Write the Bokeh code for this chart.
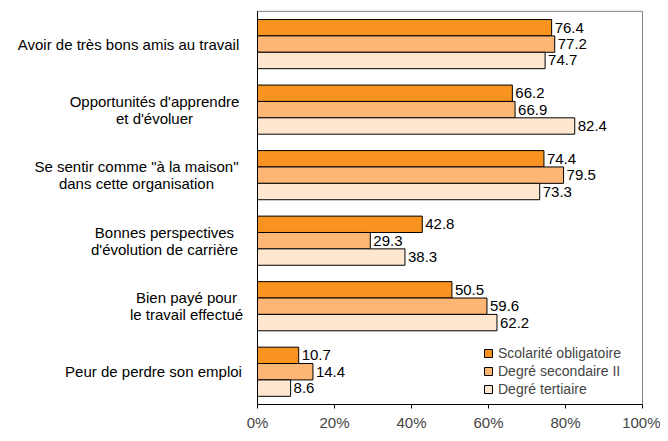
from bokeh.plotting import figure
from bokeh.models import FixedTicker, Legend, LegendItem, ColumnDataSource, LabelSet, Label
from bokeh.core.properties import value
from bokeh.embed import file_html
from bokeh.resources import INLINE

categories = [
    "Avoir de très bons amis au travail",
    "Opportunités d'apprendre\net d'évoluer",
    "Se sentir comme \"à la maison\"\ndans cette organisation",
    "Bonnes perspectives\nd'évolution de carrière",
    "Bien payé pour\nle travail effectué",
    "Peur de perdre son emploi",
]
series_names = ["Scolarité obligatoire", "Degré secondaire II", "Degré tertiaire"]
scolarite = [76.4, 66.2, 74.4, 42.8, 50.5, 10.7]
secondaire = [77.2, 66.9, 79.5, 29.3, 59.6, 14.4]
tertiaire = [74.7, 82.4, 73.3, 38.3, 62.2, 8.6]
x_ticks = [0, 20, 40, 60, 80, 100]

colors = ["#F7931E", "#FDB673", "#FFE6CF"]
FONT = "Liberation Sans"
FS = "15px"

n = len(categories)
centers = [n - 0.5 - i for i in range(n)]
offsets = [0.25, 0.0, -0.25]

# layout in pixels
W, H = 660, 433
BOTTOM = 23
FRAME_H = H - BOTTOM
AX_LEFT, AX_RIGHT, AX_TOP = 257, 642, 11
xs = (AX_RIGHT - AX_LEFT) / 100.0
x_lo = -AX_LEFT / xs
x_hi = 100 + (W - AX_RIGHT) / xs
ys = (FRAME_H - AX_TOP) / n
y_hi = n + AX_TOP / ys

p = figure(width=W, height=H, x_range=(x_lo, x_hi), y_range=(0, y_hi),
           output_backend="svg", toolbar_location=None, y_axis_location=None,
           min_border_left=0, min_border_right=0, min_border_top=0, min_border_bottom=BOTTOM)
p.outline_line_color = None
p.xgrid.visible = False
p.ygrid.visible = False
p.background_fill_color = "white"
p.border_fill_color = "white"

# plot-area box: grey top/right, black left
p.segment(x0=[0, 100], y0=[n, 0], x1=[100, 100], y1=[n, n], line_color="#808080", line_width=1)

items = []
for vals, off, col, name in zip([scolarite, secondaire, tertiaire], offsets, colors, series_names):
    src = ColumnDataSource(dict(
        y=[c + off for c in centers],
        right=vals,
        lab=[f"{v:.1f}" for v in vals],
    ))
    r = p.hbar(y="y", right="right", left=0, height=0.25, source=src,
               fill_color=col, line_color="black", line_width=1)
    items.append(LegendItem(label=name, renderers=[r]))
    p.add_layout(LabelSet(x="right", y="y", text="lab", source=src, x_offset=3,
                          text_baseline="middle", text_font=value(FONT), text_font_size=FS,
                          text_color="black"))

p.segment(x0=[0], y0=[0], x1=[0], y1=[n], line_color="black", line_width=1)

legend = Legend(items=items, location=(AX_LEFT + 226, 6), orientation="vertical",
                glyph_width=10, glyph_height=10, label_standoff=5, spacing=0,
                label_height=18, padding=0, margin=0,
                label_text_font=FONT, label_text_font_size="14px",
                border_line_color=None, background_fill_alpha=0)
p.add_layout(legend)

# x axis
xa = p.xaxis[0]
xa.bounds = (0, 100)
xa.ticker = FixedTicker(ticks=x_ticks)
xa.major_label_overrides = {t: f"{t}%" for t in x_ticks}
xa.minor_tick_line_color = None
xa.major_tick_out = 4
xa.major_tick_in = 0
xa.axis_line_color = "black"
xa.major_tick_line_color = "black"
xa.major_label_text_font = FONT
xa.major_label_text_font_size = FS
xa.major_label_standoff = 5

# category names: centred multi-line blocks left of the axis (px offsets of block centre)
label_shift = [-129, -103, -121, -93, -71, -104]
for c, lab, dx in zip(centers, categories, label_shift):
    p.add_layout(Label(x=0, y=c, text=lab, x_offset=dx, text_align="center",
                       text_baseline="middle", text_font=FONT, text_font_size=FS,
                       text_line_height=1.0, text_color="black"))

open("out.html", "w").write(file_html(p, INLINE))
